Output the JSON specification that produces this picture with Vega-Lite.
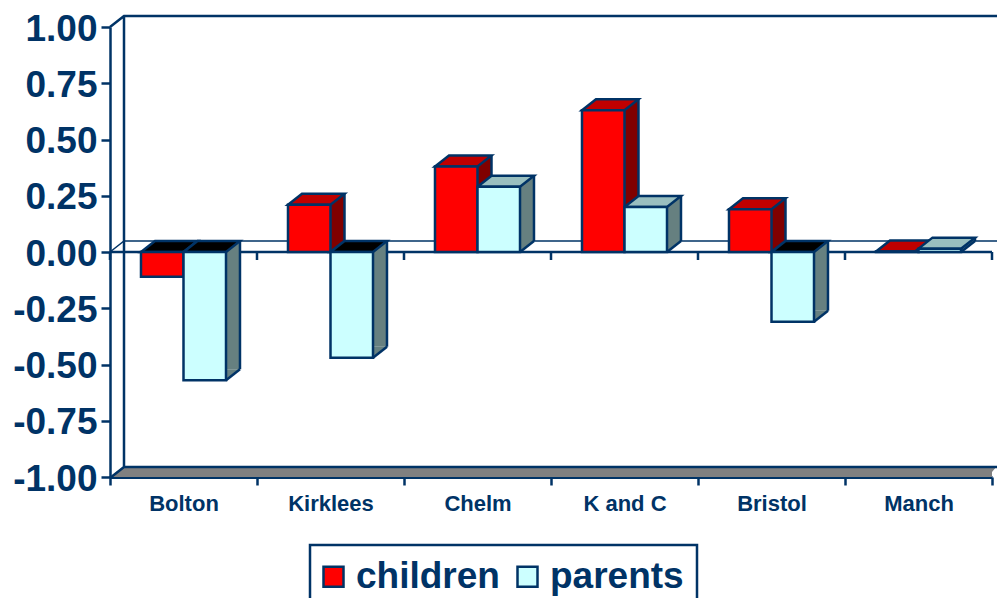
{"$schema":"https://vega.github.io/schema/vega-lite/v6.json","autosize":{"type":"none"},"padding":{"left":110,"top":27,"right":5,"bottom":121},"width":882,"height":450,"background":"white",
"config":{"legend":{"strokeWidth":2.5},"view":{"stroke":null}},
"data":{"values":[
{"city":"Bolton","series":"children","value":-0.11},{"city":"Bolton","series":"parents","value":-0.57},
{"city":"Kirklees","series":"children","value":0.21},{"city":"Kirklees","series":"parents","value":-0.47},
{"city":"Chelm","series":"children","value":0.38},{"city":"Chelm","series":"parents","value":0.29},
{"city":"K and C","series":"children","value":0.63},{"city":"K and C","series":"parents","value":0.2},
{"city":"Bristol","series":"children","value":0.19},{"city":"Bristol","series":"parents","value":-0.31},
{"city":"Manch","series":"children","value":0.002},{"city":"Manch","series":"parents","value":0.015}]},
"encoding":{
"x":{"field":"city","type":"nominal","sort":["Bolton","Kirklees","Chelm","K and C","Bristol","Manch"],"scale":{"paddingInner":0,"paddingOuter":0},"axis":{"title":null,"labelAngle":0,"tickBand":"extent","labelFont":"Liberation Sans","labelFontWeight":"bold","labelFontSize":22,"labelColor":"#003366","labelPadding":18,"labelBaseline":"middle","tickColor":"#003366","tickWidth":2.5,"tickSize":8,"domainColor":"#003366","domainWidth":3}},
"y":{"field":"value","type":"quantitative","stack":null,"scale":{"domain":[-1,1],"nice":false},"axis":{"title":null,"grid":false,"values":[-1,-0.75,-0.5,-0.25,0,0.25,0.5,0.75,1],"labelExpr":"replace(format(datum.value,'.2f'),'−','-')","labelFont":"Liberation Sans","labelFontWeight":"bold","labelFontSize":37,"labelColor":"#003366","labelPadding":4,"labelOffset":2,"tickColor":"#003366","tickWidth":2.5,"tickSize":9,"domainColor":"#003366","domainWidth":2.5}}},
"layer":[
{"transform":[{"filter":"datum.city==='Bolton'&&datum.series==='children'"}],"mark":{"type":"point","filled":true,"fill":"#808080","stroke":null,"opacity":1,"size":4,"shape":"M0,0 L14,-11 L887,-11 L882,-5 L882,0 Z"},"encoding":{"x":{"datum":"Bolton","type":"nominal","bandPosition":0},"y":{"datum":-1,"type":"quantitative"}}},
{"transform":[{"filter":"datum.city==='Bolton'&&datum.series==='children'"}],"mark":{"type":"point","filled":false,"stroke":"#003366","strokeWidth":2.5,"opacity":1,"size":4,"shape":"M0,0 L14,-11 L887,-11 M14,-11 L14,440 M0,451 L14,440 L887,440"},"encoding":{"x":{"datum":"Bolton","type":"nominal","bandPosition":0},"y":{"datum":1,"type":"quantitative"}}},
{"transform":[{"filter":"datum.city==='Bolton'&&datum.series==='children'"}],"mark":{"type":"point","filled":false,"stroke":"#003366","strokeWidth":1.5,"opacity":1,"size":4,"shape":"M0,0 L14,-11 L887,-11"},"encoding":{"x":{"datum":"Bolton","type":"nominal","bandPosition":0},"y":{"datum":0,"type":"quantitative"}}},
{"transform":[{"filter":"datum.series==='children'"}],"mark":{"type":"point","filled":false,"stroke":"#003366","strokeWidth":2.5,"opacity":1,"size":4,"shape":"M0,0 L0,8 M0,0 L147,0"},"encoding":{"x":{"field":"city","type":"nominal","bandPosition":0},"y":{"datum":0,"type":"quantitative"}}},
{"transform":[{"filter":"datum.city==='Manch'&&datum.series==='children'"}],"mark":{"type":"point","filled":false,"stroke":"#003366","strokeWidth":2.5,"opacity":1,"size":4,"shape":"M0,0 L0,8"},"encoding":{"x":{"field":"city","type":"nominal","bandPosition":1},"y":{"datum":0,"type":"quantitative"}}},
{"transform":[{"filter":"datum.series==='children'"}],"mark":{"type":"rule","stroke":"#800000","strokeWidth":14,"xOffset":7,"yOffset":-11,"y2Offset":-11},"encoding":{"x":{"field":"city","type":"nominal","bandPosition":0.5},"y2":{"datum":0}}},
{"transform":[{"filter":"datum.series==='parents'"}],"mark":{"type":"rule","stroke":"#668080","strokeWidth":14,"xOffset":7,"yOffset":-11,"y2Offset":-11},"encoding":{"x":{"field":"city","type":"nominal","bandPosition":0.789},"y2":{"datum":0}}},
{"transform":[{"filter":"datum.series==='children'"}],"mark":{"type":"rule","stroke":"#003366","strokeWidth":2.5,"xOffset":14,"yOffset":-11,"y2Offset":-11},"encoding":{"x":{"field":"city","type":"nominal","bandPosition":0.5},"y2":{"datum":0}}},
{"transform":[{"filter":"datum.series==='parents'"}],"mark":{"type":"rule","stroke":"#003366","strokeWidth":2.5,"xOffset":14,"yOffset":-11,"y2Offset":-11},"encoding":{"x":{"field":"city","type":"nominal","bandPosition":0.789},"y2":{"datum":0}}},
{"encoding":{"xOffset":{"field":"series","type":"nominal","sort":["children","parents"],"scale":{"paddingInner":0,"paddingOuter":0.729}}},
"layer":[
{"transform":[{"filter":"datum.value>=0"}],"mark":{"type":"point","filled":true,"opacity":1,"stroke":null,"size":4,"shape":"M21.25,0 L35.25,-11 L21.25,-11 Z"},"encoding":{"y":{"datum":0,"type":"quantitative"},"fill":{"condition":{"test":"datum.series==='children'","value":"#800000"},"value":"#668080"}}},
{"transform":[{"filter":"datum.value<0"}],"mark":{"type":"point","filled":true,"opacity":1,"stroke":null,"size":4,"shape":"M21.25,0 L35.25,-11 L21.25,-11 Z"},"encoding":{"fill":{"condition":{"test":"datum.series==='children'","value":"#800000"},"value":"#668080"}}},
{"transform":[{"filter":"datum.value>=0"}],"mark":{"type":"point","filled":false,"opacity":1,"stroke":"#003366","strokeWidth":2.5,"size":4,"shape":"M21.25,0 L35.25,-11"},"encoding":{"y":{"datum":0,"type":"quantitative"}}},
{"transform":[{"filter":"datum.value<0"}],"mark":{"type":"point","filled":false,"opacity":1,"stroke":"#003366","strokeWidth":2.5,"size":4,"shape":"M21.25,0 L35.25,-11"}},
{"transform":[{"filter":"datum.value<0"}],"mark":{"type":"point","filled":true,"opacity":1,"fill":"#000000","stroke":"#003366","strokeWidth":2.5,"size":4,"shape":"M-21.25,0 L21.25,0 L35.25,-11 L-7.25,-11 Z"},"encoding":{"y":{"datum":0,"type":"quantitative"}}},
{"transform":[{"filter":"datum.value>=0"}],"mark":{"type":"point","filled":true,"opacity":1,"stroke":"#003366","strokeWidth":2.5,"size":4,"shape":"M-21.25,0 L21.25,0 L35.25,-11 L-7.25,-11 Z"},"encoding":{"fill":{"condition":{"test":"datum.series==='children'","value":"#c00000"},"value":"#99bfbf"}}},
{"mark":{"type":"bar","stroke":"#003366","strokeWidth":2.5},"encoding":{"fill":{"field":"series","type":"nominal","scale":{"domain":["children","parents"],"range":["#ff0000","#ccffff"]},"legend":{"title":null,"orient":"none","legendX":200,"legendY":518,"direction":"horizontal","columns":2,"strokeColor":"#003366","fillColor":"white","padding":13,"symbolType":"square","symbolSize":400,"symbolOffset":-8,"symbolStrokeColor":"#003366","symbolStrokeWidth":2.5,"symbolOpacity":1,"labelFont":"Liberation Sans","labelFontWeight":"bold","labelFontSize":37,"labelColor":"#003366","labelOffset":4,"columnPadding":12,"labelLimit":300}}}}
]}
]}
